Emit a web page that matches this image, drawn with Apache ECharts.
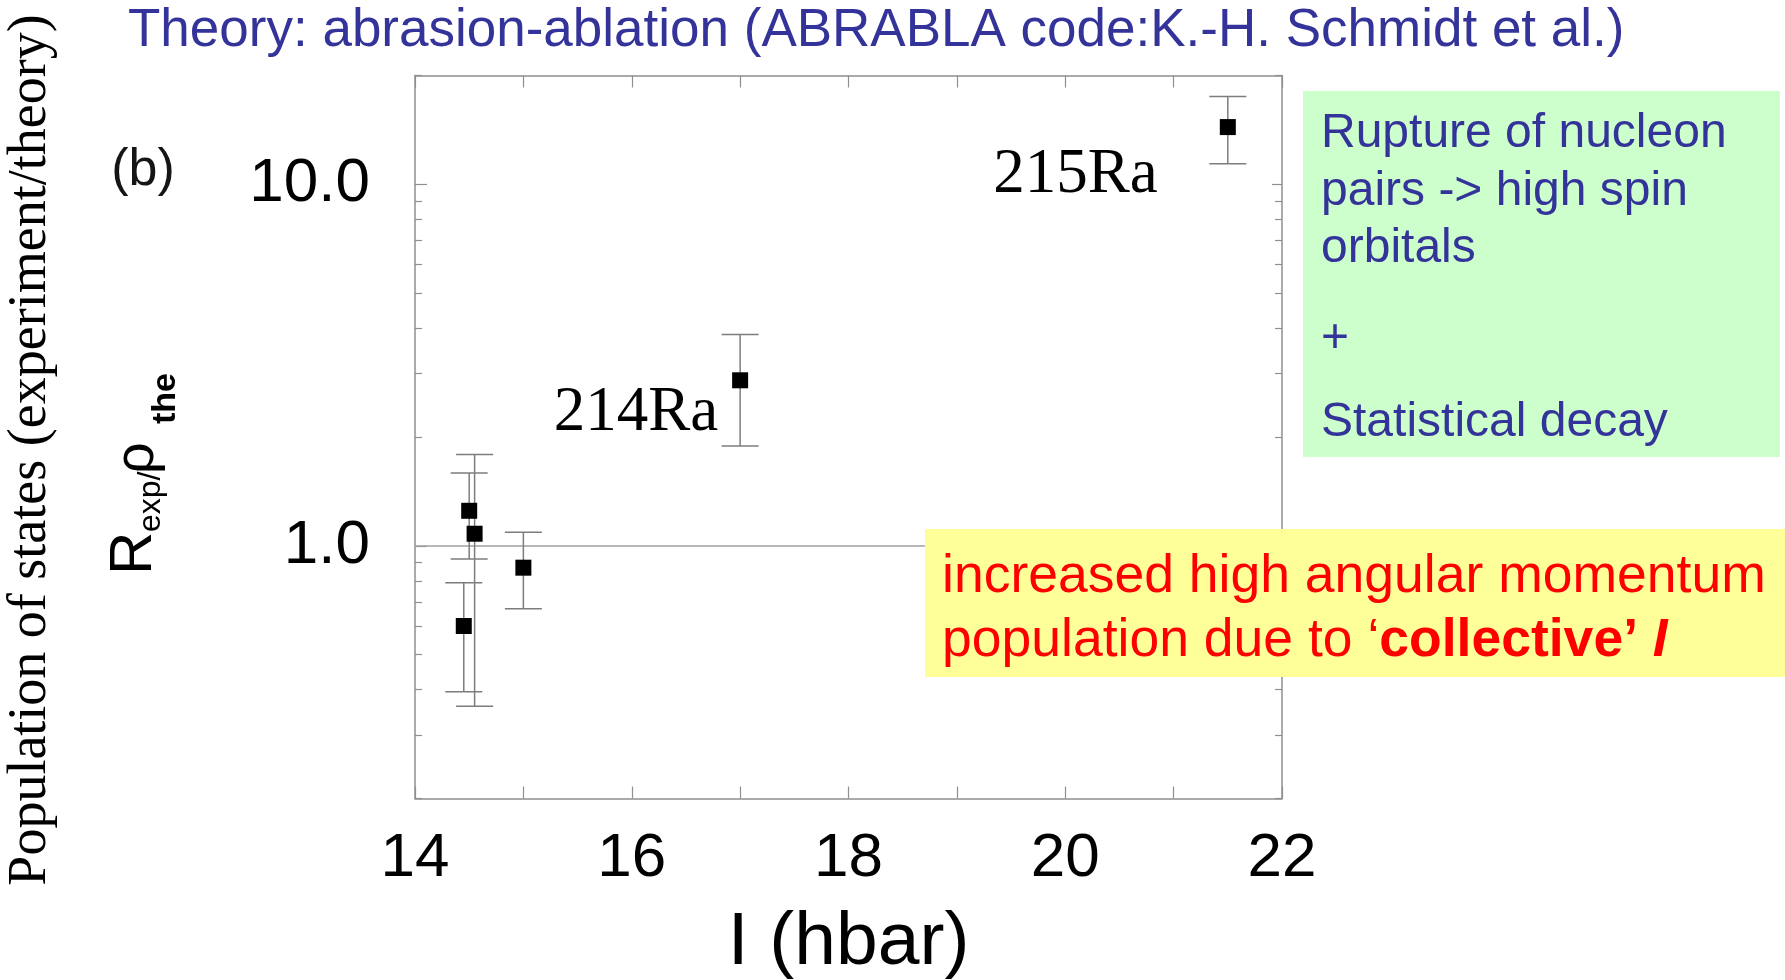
<!DOCTYPE html>
<html>
<head>
<meta charset="utf-8">
<title>Population of states vs spin</title>
<script src="https://cdn.jsdelivr.net/npm/echarts@6/dist/echarts.min.js"></script>
<style>
  html, body { margin: 0; padding: 0; background: #ffffff; }
  #chart { width: 1785px; height: 980px; }
</style>
</head>
<body>
<div id="chart"></div>
<script>
// Measured states: spin I (hbar) and ratio R_exp / rho_the with error limits
const spinValues  = [14.45, 14.5, 14.55, 15.0, 17.0, 21.5];
const ratioValues = [0.60, 1.25, 1.08, 0.87, 2.87, 14.4];
const ratioLow    = [0.395, 0.92, 0.36, 0.67, 1.89, 11.4];
const ratioHigh   = [0.79, 1.59, 1.79, 1.09, 3.84, 17.5];
const isotopeNames = ['', '', '', '', '214Ra', '215Ra'];

// Axis ticks
const xTickLabels = [14, 16, 18, 20, 22];
const yTickLabels = [1, 10];
const yMinorTicks = [0.2, 0.3, 0.4, 0.5, 0.6, 0.7, 0.8, 0.9, 2, 3, 4, 5, 6, 7, 8, 9, 20];
const referenceRatio = 1.0;

const SANS = 'Liberation Sans, Arial, Helvetica, sans-serif';
const SERIF = 'Liberation Serif, Times New Roman, serif';
const FRAME = '#8f8f8f';
const BLUE = '#333399';

// label placement of the isotope names, keyed by name
const nameLabelStyle = {
  '214Ra': { distance: 14, offset: [0, 33] },
  '215Ra': { distance: 62, offset: [0, 48] }
};

const chart = echarts.init(document.getElementById('chart'), null, { renderer: 'canvas' });

const frameLine = { show: true, lineStyle: { color: FRAME, width: 1.5 } };

function logAxis(position, tickValues, tickLen, withLabels, showLine) {
  return {
    type: 'log', logBase: 10, min: 0.2, max: 20, position: position,
    axisLine: showLine ? frameLine : { show: false },
    axisTick: { show: true, inside: true, length: tickLen, customValues: tickValues,
                lineStyle: { color: FRAME, width: 1.2 } },
    axisLabel: withLabels ? {
      show: true, customValues: yTickLabels, margin: 45,
      fontSize: 62, fontFamily: SANS, color: '#000',
      formatter: v => Number(v).toFixed(1)
    } : { show: false },
    splitLine: { show: false },
    minorTick: { show: false }
  };
}

const scatterData = spinValues.map((x, i) => {
  const item = { value: [x, ratioValues[i]] };
  const name = isotopeNames[i];
  if (name) {
    item.label = {
      show: true, position: 'left',
      distance: nameLabelStyle[name].distance,
      offset: nameLabelStyle[name].offset,
      formatter: name,
      fontFamily: SERIF, fontSize: 63, color: '#000', opacity: 1
    };
  }
  return item;
});

const option = {
  backgroundColor: '#ffffff',
  animation: false,
  grid: { left: 415, right: 503, top: 75.5, bottom: 181.5, containLabel: false, outerBoundsMode: 'none' },
  xAxis: [
    {
      type: 'value', min: 14, max: 22, interval: 1, position: 'bottom',
      axisLine: frameLine,
      axisTick: { show: true, inside: true, length: 12, lineStyle: { color: FRAME, width: 1.2 } },
      axisLabel: { show: true, customValues: xTickLabels, margin: 29,
                   fontSize: 62, fontFamily: SANS, color: '#000' },
      splitLine: { show: false },
      name: 'I (hbar)', nameLocation: 'middle', nameGap: 107,
      nameTextStyle: { fontSize: 75, fontFamily: SANS, color: '#000' }
    },
    {
      type: 'value', min: 14, max: 22, interval: 1, position: 'top',
      axisLine: frameLine,
      axisTick: { show: true, inside: true, length: 12, lineStyle: { color: FRAME, width: 1.2 } },
      axisLabel: { show: false },
      splitLine: { show: false }
    }
  ],
  yAxis: [
    logAxis('left', yMinorTicks, 7, true, true),
    logAxis('left', yTickLabels, 12, false, false),
    logAxis('right', yMinorTicks, 7, false, true),
    logAxis('right', yTickLabels, 10, false, false)
  ],
  series: [
    {
      // vertical error bars with caps
      type: 'custom',
      xAxisIndex: 0, yAxisIndex: 0,
      silent: true, z: 2,
      data: spinValues.map((x, i) => [x, ratioLow[i], ratioHigh[i]]),
      encode: { x: 0, y: [1, 2] },
      renderItem: function (params, api) {
        const x = api.value(0);
        const lo = api.coord([x, api.value(1)]);
        const hi = api.coord([x, api.value(2)]);
        const half = 18.5;
        const style = { stroke: '#7d7d7d', lineWidth: 1.5, fill: null };
        return {
          type: 'group',
          children: [
            { type: 'line', shape: { x1: lo[0], y1: lo[1], x2: hi[0], y2: hi[1] }, style: style },
            { type: 'line', shape: { x1: lo[0] - half, y1: lo[1], x2: lo[0] + half, y2: lo[1] }, style: style },
            { type: 'line', shape: { x1: hi[0] - half, y1: hi[1], x2: hi[0] + half, y2: hi[1] }, style: style }
          ]
        };
      }
    },
    {
      type: 'scatter',
      xAxisIndex: 0, yAxisIndex: 0,
      symbol: 'rect', symbolSize: 16, z: 3,
      itemStyle: { color: '#000000', opacity: 1 },
      label: { show: false },
      data: scatterData,
      markLine: {
        silent: true, symbol: 'none', z: 1,
        label: { show: false },
        lineStyle: { color: '#a0a0a0', width: 1.5, type: 'solid' },
        data: [{ yAxis: referenceRatio }]
      }
    }
  ],
  graphic: [
    {
      type: 'text', x: 128, y: 31, z: 10,
      style: { text: 'Theory: abrasion-ablation (ABRABLA code:K.-H. Schmidt et al.)',
               font: '53px ' + SANS, fill: BLUE, align: 'left', verticalAlign: 'middle' }
    },
    {
      type: 'text', x: 143, y: 171, z: 10,
      style: { text: '(b)', font: '52px ' + SANS, fill: '#151515', align: 'center', verticalAlign: 'middle' }
    },
    {
      type: 'text', x: 31, y: 450, rotation: Math.PI / 2, z: 10,
      style: { text: 'Population of states (experiment/theory)', font: '54px ' + SERIF,
               fill: '#000', align: 'center', verticalAlign: 'middle' }
    },
    {
      // R_exp / rho_the, reading upward
      type: 'group', x: 155, y: 575, rotation: Math.PI / 2, z: 10,
      children: [
        { type: 'text', x: 0, y: -20.8,
          style: { text: 'R', font: '60px ' + SANS, fill: '#000', align: 'left', verticalAlign: 'middle' } },
        { type: 'text', x: 43, y: -4.1,
          style: { text: 'exp/', font: '32px ' + SANS, fill: '#000', align: 'left', verticalAlign: 'middle' } },
        { type: 'text', x: 101, y: -17.4,
          style: { text: 'ρ', font: '56px ' + SANS, fill: '#000', align: 'left', verticalAlign: 'middle' } },
        { type: 'text', x: 151, y: 10.2,
          style: { text: 'the', font: 'bold 34px ' + SANS, fill: '#000', align: 'left', verticalAlign: 'middle' } }
      ]
    },
    {
      type: 'rect', z: 20,
      shape: { x: 1303, y: 91, width: 477, height: 366 },
      style: { fill: '#ccffcc' }
    },
    { type: 'text', x: 1321, y: 134, z: 21,
      style: { text: 'Rupture of nucleon', font: '48px ' + SANS, fill: BLUE, verticalAlign: 'middle' } },
    { type: 'text', x: 1321, y: 191.3, z: 21,
      style: { text: 'pairs -> high spin', font: '48px ' + SANS, fill: BLUE, verticalAlign: 'middle' } },
    { type: 'text', x: 1321, y: 249, z: 21,
      style: { text: 'orbitals', font: '48px ' + SANS, fill: BLUE, verticalAlign: 'middle' } },
    { type: 'text', x: 1321, y: 339, z: 21,
      style: { text: '+', font: '48px ' + SANS, fill: BLUE, verticalAlign: 'middle' } },
    { type: 'text', x: 1321, y: 422.3, z: 21,
      style: { text: 'Statistical decay', font: '48px ' + SANS, fill: BLUE, verticalAlign: 'middle' } },
    {
      type: 'rect', z: 20,
      shape: { x: 925, y: 529, width: 860, height: 148 },
      style: { fill: '#ffff99' }
    },
    { type: 'text', x: 942, y: 577, z: 21,
      style: { text: 'increased high angular momentum', font: '53.5px ' + SANS, fill: '#ff0000', verticalAlign: 'middle' } },
    { type: 'text', x: 942, y: 641, z: 21,
      style: {
        text: '{n|population due to ‘}{b|collective’}{n| }{bi|I}',
        verticalAlign: 'middle', fill: '#ff0000',
        rich: {
          n:  { fontSize: 53.5, fontFamily: SANS, fill: '#ff0000' },
          b:  { fontSize: 53.5, fontFamily: SANS, fontWeight: 'bold', fill: '#ff0000' },
          bi: { fontSize: 53.5, fontFamily: SANS, fontWeight: 'bold', fontStyle: 'italic', fill: '#ff0000' }
        }
      } }
  ]
};

chart.setOption(option);
</script>
</body>
</html>
